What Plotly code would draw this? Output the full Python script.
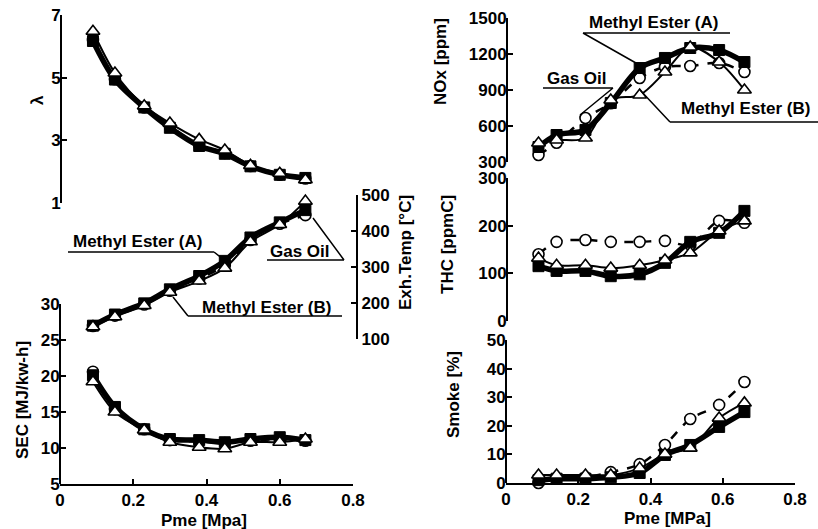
import plotly.graph_objects as go

W, H = 818, 529

# ---------------- data ----------------
pme_left = [0.09, 0.15, 0.23, 0.30, 0.38, 0.45, 0.52, 0.60, 0.67]
pme_right = [0.09, 0.14, 0.22, 0.29, 0.37, 0.44, 0.51, 0.59, 0.66]

lam_gas = [6.20, 4.95, 4.05, 3.45, 2.85, 2.60, 2.18, 1.90, 1.78]
lam_a = [6.17, 4.94, 4.05, 3.40, 2.82, 2.57, 2.17, 1.90, 1.80]
lam_b = [6.48, 5.15, 4.10, 3.55, 3.03, 2.69, 2.20, 1.95, 1.74]

exh_gas = [136, 165, 196, 234, 268, 305, 375, 420, 444]
exh_a = [137, 168, 199, 238, 275, 317, 382, 424, 458]
exh_b = [134, 162, 193, 230, 261, 297, 370, 418, 483]

sec_gas = [20.6, 15.4, 12.6, 11.1, 10.9, 10.7, 11.0, 11.2, 11.0]
sec_a = [20.1, 15.7, 12.6, 11.25, 11.1, 10.8, 11.25, 11.5, 11.1]
sec_b = [19.2, 15.0, 12.5, 10.8, 10.1, 9.9, 10.8, 10.8, 11.25]

nox_gas = [358, 460, 667, 790, 1000, 1092, 1100, 1125, 1050]
nox_a = [425, 525, 567, 792, 1083, 1167, 1250, 1233, 1133]
nox_b = [458, 483, 500, 817, 858, 1050, 1258, 1133, 900]

thc_gas = [140, 166, 170, 166, 166, 168, 160, 210, 206]
thc_a = [115, 105, 105, 94, 98, 122, 166, 185, 231]
thc_b = [132, 117, 117, 111, 117, 128, 143, 189, 210]

smoke_gas = [0.0, 1.5, 2.0, 3.8, 6.6, 13.3, 22.4, 27.3, 35.3]
smoke_a = [1.0, 1.5, 1.5, 2.0, 3.5, 9.8, 13.3, 19.6, 24.8]
smoke_b = [2.8, 2.8, 2.8, 2.8, 5.2, 10.1, 12.2, 22.7, 28.0]

x_ticks = [0, 0.2, 0.4, 0.6, 0.8]
x_ticktext = ["0", "0.2", "0.4", "0.6", "0.8"]
lam_ticks = [1, 3, 5, 7]
exh_ticks = [100, 200, 300, 400, 500]
sec_ticks = [5, 10, 15, 20, 25, 30]
nox_ticks = [300, 600, 900, 1200, 1500]
thc_ticks = [0, 100, 200, 300]
smoke_ticks = [0, 10, 20, 30, 40, 50]

# ---------------- helpers ----------------
FONT = "Liberation Sans, Arial, sans-serif"


def fx(px):
    return px / W


def fy(py):
    return 1 - py / H


STYLE = {
    "gas": dict(line=dict(color="black", width=2.5, dash="dash"),
                marker=dict(symbol="circle", size=11, color="white",
                            line=dict(color="black", width=1.6))),
    "a": dict(line=dict(color="black", width=5.5),
              marker=dict(symbol="square", size=11, color="black",
                          line=dict(color="black", width=1))),
    "b": dict(line=dict(color="black", width=2),
              marker=dict(symbol="triangle-up", size=12, color="white",
                          line=dict(color="black", width=1.6))),
}
NAMES = {"gas": "Gas Oil", "a": "Methyl Ester (A)", "b": "Methyl Ester (B)"}

fig = go.Figure()


def add(xs, ys, key, xa, ya):
    st = STYLE[key]
    fig.add_trace(go.Scatter(
        x=xs, y=ys, mode="lines+markers", name=NAMES[key],
        line=dict(shape="spline", smoothing=0.9, **st["line"]),
        marker=st["marker"], xaxis=xa, yaxis=ya, cliponaxis=False,
        showlegend=False))


panels = [
    (pme_left, lam_gas, lam_a, lam_b, "x2", "y"),
    (pme_left, exh_gas, exh_a, exh_b, "x3", "y2"),
    (pme_left, sec_gas, sec_a, sec_b, "x", "y3"),
    (pme_right, nox_gas, nox_a, nox_b, "x5", "y4"),
    (pme_right, thc_gas, thc_a, thc_b, "x6", "y5"),
    (pme_right, smoke_gas, smoke_a, smoke_b, "x4", "y6"),
]
for xs, g, a, b, xa, ya in panels:
    add(xs, g, "gas", xa, ya)
    add(xs, a, "a", xa, ya)
    add(xs, b, "b", xa, ya)

tickfont = dict(family=FONT, size=17, color="black", weight=700)
common_axis = dict(showgrid=False, zeroline=False, showline=True,
                   linecolor="black", linewidth=2, ticks="inside",
                   ticklen=5, tickwidth=2, tickcolor="black",
                   tickfont=tickfont, automargin=False)
left_y = dict(common_axis, ticklabelstandoff=-4)
hidden = dict(visible=False, automargin=False, showgrid=False,
              zeroline=False)

left_dom = [fx(60), fx(353)]
right_dom = [fx(506), fx(795)]

layout = dict(
    template="none",
    width=W, height=H, margin=dict(l=0, r=0, t=0, b=0, pad=0),
    paper_bgcolor="white", plot_bgcolor="rgba(0,0,0,0)",
    showlegend=False,
    xaxis=dict(domain=left_dom, range=[0, 0.8], anchor="y3",
               tickvals=x_ticks, ticktext=x_ticktext, **common_axis),
    xaxis2=dict(domain=left_dom, range=[0, 0.8], anchor="y", **hidden),
    xaxis3=dict(domain=left_dom, range=[0, 0.8], anchor="y2", **hidden),
    xaxis4=dict(domain=right_dom, range=[0, 0.8], anchor="y6",
                tickvals=x_ticks, ticktext=x_ticktext, **common_axis),
    xaxis5=dict(domain=right_dom, range=[0, 0.8], anchor="y4", **hidden),
    xaxis6=dict(domain=right_dom, range=[0, 0.8], anchor="y5", **hidden),
    yaxis=dict(domain=[fy(203), fy(15)], range=[1, 7], anchor="free",
               position=fx(61), tickvals=lam_ticks, **left_y),
    yaxis2=dict(domain=[fy(339), fy(195)], range=[100, 500], anchor="free",
                position=fx(357), side="right", tickvals=exh_ticks,
                **common_axis),
    yaxis3=dict(domain=[fy(484), fy(304)], range=[5, 30], anchor="free",
                position=fx(60), tickvals=sec_ticks, **left_y),
    yaxis4=dict(domain=[fy(162), fy(18)], range=[300, 1500], anchor="free",
                position=fx(507), tickvals=nox_ticks, **left_y),
    yaxis5=dict(domain=[fy(321), fy(178)], range=[0, 300], anchor="free",
                position=fx(507), tickvals=thc_ticks, **left_y),
    yaxis6=dict(domain=[fy(483), fy(340)], range=[0, 50], anchor="free",
                position=fx(506), tickvals=smoke_ticks, **left_y),
)
fig.update_layout(**layout)

# ---------------- axis titles ----------------
titles = [
    ("λ", 37, 100, -90),
    ("SEC [MJ/kw-h]", 22, 400, -90),
    ("Exh.Temp [°C]", 405, 253, -90),
    ("NOx [ppm]", 440, 62, -90),
    ("THC [ppmC]", 447, 245, -90),
    ("Smoke [%]", 453, 395, -90),
    ("Pme [Mpa]", 204, 520, 0),
    ("Pme [MPa]", 667, 518, 0),
]
for text, px, py, ang in titles:
    fig.add_annotation(text=text, x=fx(px), y=fy(py), xref="paper",
                       yref="paper", showarrow=False, textangle=ang,
                       font=dict(family=FONT, size=17, color="black",
                                 weight=700),
                       xanchor="center", yanchor="middle")

# ---------------- series labels with leader lines ----------------
labels = [
    # text, text center x, y, underline x0, x1, y, leader end x, y
    ("Methyl Ester (A)", 137, 242, 68, 214, 252, 228, 263),
    ("Gas Oil", 300, 251, 267, 344, 260, 313, 218),
    ("Methyl Ester (B)", 266, 307, 188, 342, 316, 173, 297),
    ("Methyl Ester (A)", 653, 23, 583, 730, 33, 643, 67),
    ("Gas Oil", 577, 79, 543, 613, 88, 580, 115),
    ("Methyl Ester (B)", 745, 109, 670, 818, 122, 640, 90),
]
for text, tx, ty, u0, u1, uy, lx, ly in labels:
    fig.add_annotation(text=text, x=fx(tx), y=fy(ty), xref="paper",
                       yref="paper", showarrow=False,
                       font=dict(family=FONT, size=17, color="black",
                                 weight=700),
                       xanchor="center", yanchor="middle")
    start = u1 if lx > (u0 + u1) / 2 else u0
    fig.add_shape(type="path", xref="paper", yref="paper",
                  path=f"M {fx(u0)} {fy(uy)} L {fx(u1)} {fy(uy)} "
                       f"M {fx(start)} {fy(uy)} L {fx(lx)} {fy(ly)}",
                  line=dict(color="black", width=1.5))

# remove the browser's default 8px page margin so the figure sits at (0, 0)
fig.write_html("out.html",
               config={"displayModeBar": False},
               post_script="document.body.style.margin='0';"
                           "document.body.style.overflow='hidden';")
